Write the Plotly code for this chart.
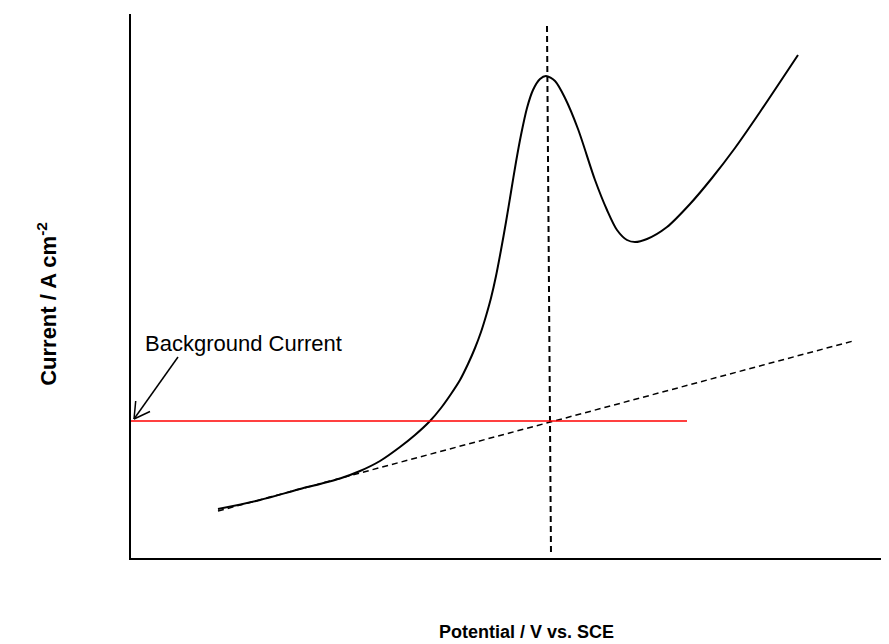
import plotly.graph_objects as go

# Schematic polarization curve (arbitrary units)
potential = [87, 129, 169, 189, 209, 229, 249, 269, 284, 299, 310, 320, 329, 337, 344,
             350, 355, 360, 365, 370, 375, 380, 385, 390, 396, 402, 409, 415, 424, 434,
             447, 464, 476, 486, 496, 504, 516, 536, 559, 581, 604, 629, 667]
current = [49, 58, 69, 74, 79.5, 87, 97, 111, 123, 137, 150, 164, 178, 194, 210,
           226, 242, 260, 282, 308, 336, 366, 396, 423, 450, 468, 479, 482, 477, 460,
           429, 378, 348, 328, 318, 316, 319, 331, 354, 380, 410, 446, 503]

# Extrapolated background (tangent) line
tangent_x = [87, 722]
tangent_y = [47, 217]

# Peak potential marker (vertical dashed)
peak_x = [416, 420]
peak_y = [532, 3]

# Background current level
bg_x = [0, 556]
bg_y = [137, 137]

x_range = [0, 758]
y_range = [0, 544]

FONT = "Liberation Sans, Arial, sans-serif"

fig = go.Figure()
fig.add_trace(go.Scatter(x=potential, y=current, mode="lines",
                         line=dict(color="black", width=2, shape="spline", smoothing=0.8),
                         hoverinfo="skip"))
fig.add_trace(go.Scatter(x=tangent_x, y=tangent_y, mode="lines",
                         line=dict(color="black", width=1.5, dash="6px,4px"), hoverinfo="skip"))
fig.add_trace(go.Scatter(x=peak_x, y=peak_y, mode="lines",
                         line=dict(color="black", width=2, dash="6px,4px"), hoverinfo="skip"))
fig.add_trace(go.Scatter(x=bg_x, y=bg_y, mode="lines",
                         line=dict(color="red", width=1.5), hoverinfo="skip"))

# Arrow: head at background current on y-axis, tail below label
head = (3, 139)
tail = (47, 201)
barb1 = (4.7, 157)
barb2 = (19, 146.5)
for p in (tail, barb1, barb2):
    fig.add_shape(type="line", x0=head[0], y0=head[1], x1=p[0], y1=p[1],
                  line=dict(color="black", width=1.5), xref="x", yref="y")

fig.add_annotation(x=12, y=215, text="Background Current", showarrow=False,
                   xanchor="left", yanchor="middle",
                   font=dict(family=FONT, size=22, color="black"))

fig.add_annotation(xref="paper", yref="paper", x=0.522, y=-0.136,
                   text="<b>Potential / V vs. SCE</b>", showarrow=False,
                   xanchor="center", yanchor="middle",
                   font=dict(family=FONT, size=18, color="black"))
fig.add_annotation(xref="paper", yref="paper", x=-0.111, y=0.467,
                   text="<b>Current / A cm<sup>-2</sup></b>", showarrow=False,
                   textangle=-90, xanchor="center", yanchor="middle",
                   font=dict(family=FONT, size=22, color="black"))

fig.update_xaxes(range=x_range, showline=True, linecolor="black", linewidth=2,
                 showgrid=False, zeroline=False, showticklabels=False, ticks="")
fig.update_yaxes(range=y_range, showline=True, linecolor="black", linewidth=2,
                 showgrid=False, zeroline=False, showticklabels=False, ticks="")
fig.update_layout(width=881, height=636, margin=dict(l=123, r=0, t=6, b=86),
                  plot_bgcolor="white", paper_bgcolor="white", showlegend=False)

fig.write_html("out.html")
